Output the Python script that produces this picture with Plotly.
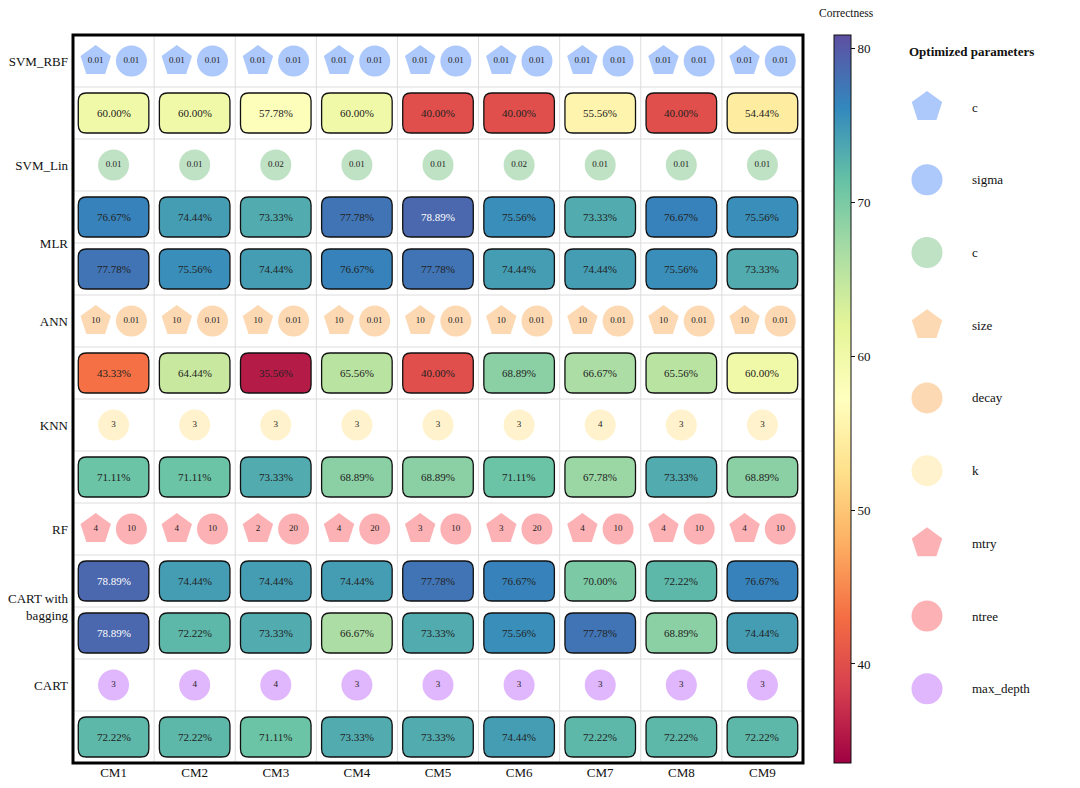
import plotly.graph_objects as go
from plotly.colors import sample_colorscale

# ---------------- data ----------------
cm_labels = ["CM1", "CM2", "CM3", "CM4", "CM5", "CM6", "CM7", "CM8", "CM9"]

svm_rbf_c = ["0.01"] * 9
svm_rbf_sigma = ["0.01"] * 9
svm_rbf_acc = [60.00, 60.00, 57.78, 60.00, 40.00, 40.00, 55.56, 40.00, 54.44]
svm_lin_c = ["0.01", "0.01", "0.02", "0.01", "0.01", "0.02", "0.01", "0.01", "0.01"]
mlr_acc_a = [76.67, 74.44, 73.33, 77.78, 78.89, 75.56, 73.33, 76.67, 75.56]
mlr_acc_b = [77.78, 75.56, 74.44, 76.67, 77.78, 74.44, 74.44, 75.56, 73.33]
ann_size = ["10"] * 9
ann_decay = ["0.01"] * 9
ann_acc = [43.33, 64.44, 35.56, 65.56, 40.00, 68.89, 66.67, 65.56, 60.00]
knn_k = ["3", "3", "3", "3", "3", "3", "4", "3", "3"]
knn_acc = [71.11, 71.11, 73.33, 68.89, 68.89, 71.11, 67.78, 73.33, 68.89]
rf_mtry = ["4", "4", "2", "4", "3", "3", "4", "4", "4"]
rf_ntree = ["10", "10", "20", "20", "10", "20", "10", "10", "10"]
bag_acc_a = [78.89, 74.44, 74.44, 74.44, 77.78, 76.67, 70.00, 72.22, 76.67]
bag_acc_b = [78.89, 72.22, 73.33, 66.67, 73.33, 75.56, 77.78, 68.89, 74.44]
cart_depth = ["3", "4", "4", "3", "3", "3", "3", "3", "3"]
cart_acc = [72.22, 72.22, 71.11, 73.33, 73.33, 74.44, 72.22, 72.22, 72.22]

model_labels = ["SVM_RBF", "SVM_Lin", "MLR", "ANN", "KNN", "RF", "CART with<br>bagging", "CART"]
model_label_rows = [0, 2, 3.5, 5, 7, 9, 10.5, 12]

legend_names = ["c", "sigma", "c", "size", "decay", "k", "mtry", "ntree", "max_depth"]
legend_symbols = ["pentagon", "circle", "circle", "pentagon", "circle", "circle", "pentagon", "circle", "circle"]
legend_colors = ["#adc8fb", "#adc8fb", "#bfe1c4", "#fdd9b3", "#fdd9b3", "#fff2cc", "#fcb2b5", "#fcb2b5", "#e0b6fc"]

# row layout: ("p", [(values, legend index), ...]) or ("a", values)
rows = [
    ("p", [(svm_rbf_c, 0), (svm_rbf_sigma, 1)]),
    ("a", svm_rbf_acc),
    ("p", [(svm_lin_c, 2)]),
    ("a", mlr_acc_a),
    ("a", mlr_acc_b),
    ("p", [(ann_size, 3), (ann_decay, 4)]),
    ("a", ann_acc),
    ("p", [(knn_k, 5)]),
    ("a", knn_acc),
    ("p", [(rf_mtry, 6), (rf_ntree, 7)]),
    ("a", bag_acc_a),
    ("a", bag_acc_b),
    ("p", [(cart_depth, 8)]),
    ("a", cart_acc),
]

spectral = ["#9e0142", "#d53e4f", "#f46d43", "#fdae61", "#fee08b", "#ffffbf",
            "#e6f598", "#abdda4", "#66c2a5", "#3288bd", "#5e4fa2"]
cscale = [[i / (len(spectral) - 1), c] for i, c in enumerate(spectral)]

all_acc = [v for kind, r in rows if kind == "a" for v in r]
vmin = min(all_acc) - 2
vmax = max(all_acc) + 2

FONT = "Liberation Serif"
ncol = len(cm_labels)
nrow = len(rows)

fig = go.Figure()
shapes = []
annotations = []

# grid lines
for i in range(1, ncol):
    shapes.append(dict(type="line", xref="x", yref="y", x0=i - 0.5, x1=i - 0.5, y0=-0.5, y1=nrow - 0.5,
                       line=dict(color="#dddddd", width=1), layer="below"))
for j in range(1, nrow):
    shapes.append(dict(type="line", xref="x", yref="y", x0=-0.5, x1=ncol - 0.5, y0=j - 0.5, y1=j - 0.5,
                       line=dict(color="#dddddd", width=1), layer="below"))


def rounded_path(cx, cy, hw, hh, rx, ry):
    x0, x1 = cx - hw, cx + hw
    y0, y1 = cy - hh, cy + hh
    return (f"M {x0+rx},{y0} L {x1-rx},{y0} Q {x1},{y0} {x1},{y0+ry} "
            f"L {x1},{y1-ry} Q {x1},{y1} {x1-rx},{y1} L {x0+rx},{y1} "
            f"Q {x0},{y1} {x0},{y1-ry} L {x0},{y0+ry} Q {x0},{y0} {x0+rx},{y0} Z")


acc_x, acc_y, acc_v = [], [], []
for r, (kind, content) in enumerate(rows):
    if kind == "a":
        cols = sample_colorscale(cscale, [(v - vmin) / (vmax - vmin) for v in content])
        for c, v in enumerate(content):
            shapes.append(dict(type="path", xref="x", yref="y",
                               path=rounded_path(c, r, 0.435, 0.385, 0.1, 0.155),
                               fillcolor=cols[c], line=dict(color="#111111", width=1.3), layer="below"))
            norm = (v - vmin) / (vmax - vmin)
            annotations.append(dict(x=c, y=r, xref="x", yref="y", text=f"{v:.2f}%", showarrow=False,
                                    font=dict(family=FONT, size=11,
                                              color="white" if norm > 0.95 else "#222222")))
            acc_x.append(c)
            acc_y.append(r)
            acc_v.append(v)
    else:
        offsets = [-0.22, 0.22] if len(content) == 2 else [0.0]
        for (vals, li), off in zip(content, offsets):
            fig.add_trace(go.Scatter(
                x=[c + off for c in range(ncol)], y=[r] * ncol, mode="markers+text",
                marker=dict(symbol=legend_symbols[li], size=31 if legend_symbols[li] == "circle" else 32,
                            color=legend_colors[li], line=dict(width=0)),
                text=vals, textposition="middle center",
                textfont=dict(family=FONT, size=9, color="#222222"),
                showlegend=False, hoverinfo="skip"))

# colorbar carrier
fig.add_trace(go.Scatter(
    x=acc_x, y=acc_y, mode="markers",
    marker=dict(color=acc_v, colorscale=cscale, cmin=vmin, cmax=vmax, opacity=0, size=1,
                showscale=True,
                colorbar=dict(x=834 / 1080, xanchor="left", y=(1 - 35 / 788 + 1 - 763 / 788) / 2,
                              yanchor="middle", xpad=0, ypad=0,
                              len=728 / 788, lenmode="fraction", thickness=17, thicknessmode="pixels",
                              outlinecolor="#111111", outlinewidth=1,
                              tickvals=[40, 50, 60, 70, 80], ticks="outside", ticklen=4,
                              tickcolor="#111111",
                              tickfont=dict(family=FONT, size=13, color="#111111"))),
    showlegend=False, hoverinfo="skip"))

annotations.append(dict(x=846 / 1080, y=1 - 13 / 788, xref="paper", yref="paper", text="Correctness",
                        showarrow=False, xanchor="center", yanchor="middle",
                        font=dict(family=FONT, size=11.5, color="#111111")))

# frame
shapes.append(dict(type="rect", xref="x domain", yref="y domain", x0=0, x1=1, y0=0, y1=1,
                   line=dict(color="black", width=3), layer="above"))

# custom legend
for i in range(len(legend_names)):
    fig.add_trace(go.Scatter(
        x=[47], y=[i], xaxis="x2", yaxis="y2", mode="markers",
        marker=dict(symbol=legend_symbols[i], size=31 if legend_symbols[i] == "circle" else 32,
                    color=legend_colors[i], line=dict(width=0)),
        showlegend=False, hoverinfo="skip"))
    annotations.append(dict(x=90, y=i, xref="x2", yref="y2", text=legend_names[i], showarrow=False,
                            xanchor="left", yanchor="middle",
                            font=dict(family=FONT, size=13, color="#111111")))
annotations.append(dict(x=907 / 1080, y=1 - 52 / 788, xref="paper", yref="paper",
                        text="<b>Optimized parameters</b>", showarrow=False, xanchor="left",
                        yanchor="middle", font=dict(family=FONT, size=13, color="#111111")))

fig.update_layout(
    width=1080, height=788,
    margin=dict(l=0, r=0, t=0, b=0),
    paper_bgcolor="white", plot_bgcolor="white",
    shapes=shapes, annotations=annotations,
    xaxis=dict(domain=[73 / 1080, 803 / 1080], range=[-0.5, ncol - 0.5], automargin=False,
               tickvals=list(range(ncol)), ticktext=cm_labels, showgrid=False, zeroline=False,
               ticks="", tickfont=dict(family=FONT, size=13, color="#111111"), fixedrange=True),
    yaxis=dict(domain=[1 - 763 / 788, 1 - 35 / 788], range=[nrow - 0.5, -0.5], automargin=False,
               tickvals=model_label_rows, ticktext=model_labels, showgrid=False, zeroline=False,
               ticks="", ticklabelstandoff=4,
               tickfont=dict(family=FONT, size=13, color="#111111"), fixedrange=True),
    xaxis2=dict(domain=[880 / 1080, 1.0], range=[0, 200], visible=False, anchor="y2", fixedrange=True),
    yaxis2=dict(domain=[1 - 763 / 788, 1 - 35 / 788], range=[9.02, -0.99], visible=False, anchor="x2",
                fixedrange=True),
)

fig.write_html("out.html", config={"displayModeBar": False},
               post_script="document.body.style.margin='0';document.body.style.overflow='hidden';")
